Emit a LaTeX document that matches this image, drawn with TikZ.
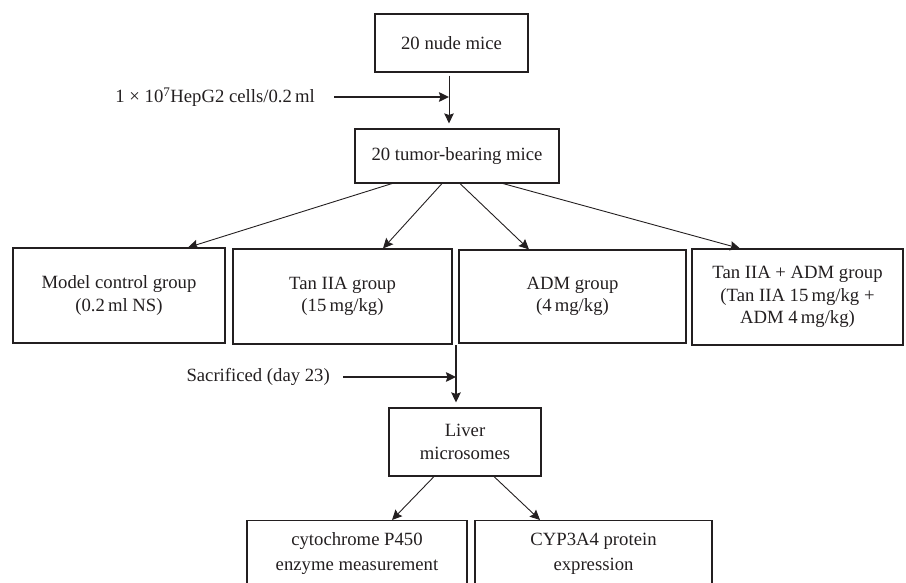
\documentclass[tikz,border=0pt]{standalone}
\usepackage{fontspec}
\setmainfont{Liberation Serif}
\usetikzlibrary{arrows.meta}
\definecolor{inkblack}{HTML}{231F20}

\begin{document}
\begin{tikzpicture}[>={Stealth[length=10pt,width=9.5pt,inset=1.5pt]},x=1pt,y=-1pt,
    font=\fontsize{18.7}{22.5}\selectfont,color=inkblack,
    flowbox/.style={draw=inkblack,line width=1.1pt,align=center,inner sep=0pt},
    note/.style={inner sep=0pt,anchor=east},
    thinarrow/.style={->,line width=0.9pt},
    thickarrow/.style={->,line width=1.8pt}]

  \useasboundingbox (0,0) rectangle (906,583);

  % --- mice and inoculation ---
  \node[flowbox,minimum width=153,minimum height=58] (nude) at (451.5,43)
        {20 nude mice};
  \node[flowbox,minimum width=204,minimum height=54] (tumor) at (457,156)
        {20 tumor-bearing mice};
  \node[note] (hepg) at (315,97)
        {1 × 10\textsuperscript{7}HepG2 cells/0.2\,ml};
  \coordinate (inject) at (449,97);

  \draw[thinarrow,shorten <=3pt,shorten >=5pt]
        (inject |- nude.south) -- (inject |- tumor.north);
  \draw[thickarrow] ([xshift=19]hepg.east) -- (inject);

  % --- treatment groups ---
  \node[flowbox,minimum width=212,minimum height=95] (model) at (119,295.5)
        {Model control group\\(0.2\,ml NS)};
  \node[flowbox,minimum width=219,minimum height=95] (taniia) at (342.5,296.5)
        {Tan IIA group\\(15\,mg/kg)};
  \node[flowbox,minimum width=227,minimum height=93] (adm) at (572.5,296.5)
        {ADM group\\(4\,mg/kg)};
  \node[flowbox,minimum width=211,minimum height=96] (combo) at (797.5,297)
        {Tan IIA + ADM group\\(Tan IIA 15\,mg/kg +\\ADM 4\,mg/kg)};

  \foreach \dx/\grp/\tx in {-65/model/69,-15/taniia/40.5,3/adm/-43.5,46/combo/-57.5}
    \draw[thinarrow] ([xshift=\dx]tumor.south) -- ([xshift=\tx]\grp.north);

  % --- sacrifice ---
  \coordinate (split) at (456,345);
  \node[note] (sacr) at (330,377) {Sacrificed (day 23)};
  \node[flowbox,minimum width=152,minimum height=68] (liver) at (465,442)
        {Liver\\microsomes};

  \draw[thickarrow,shorten >=5pt] (split) -- (split |- liver.north);
  \draw[thickarrow] ([xshift=13]sacr.east) -- (split |- sacr);

  % --- assays ---
  \node[flowbox,anchor=north,minimum width=220,minimum height=66] (cyto) at (357,520)
        {cytochrome P450\\[3pt]enzyme measurement};
  \node[flowbox,anchor=north,minimum width=237,minimum height=66] (cyp) at (593.5,520)
        {CYP3A4 protein\\[3pt]expression};

  \draw[thinarrow] ([xshift=-31]liver.south) -- ([xshift=35]cyto.north);
  \draw[thinarrow] ([xshift=29]liver.south) -- ([xshift=-53.5]cyp.north);

\end{tikzpicture}
\end{document}
